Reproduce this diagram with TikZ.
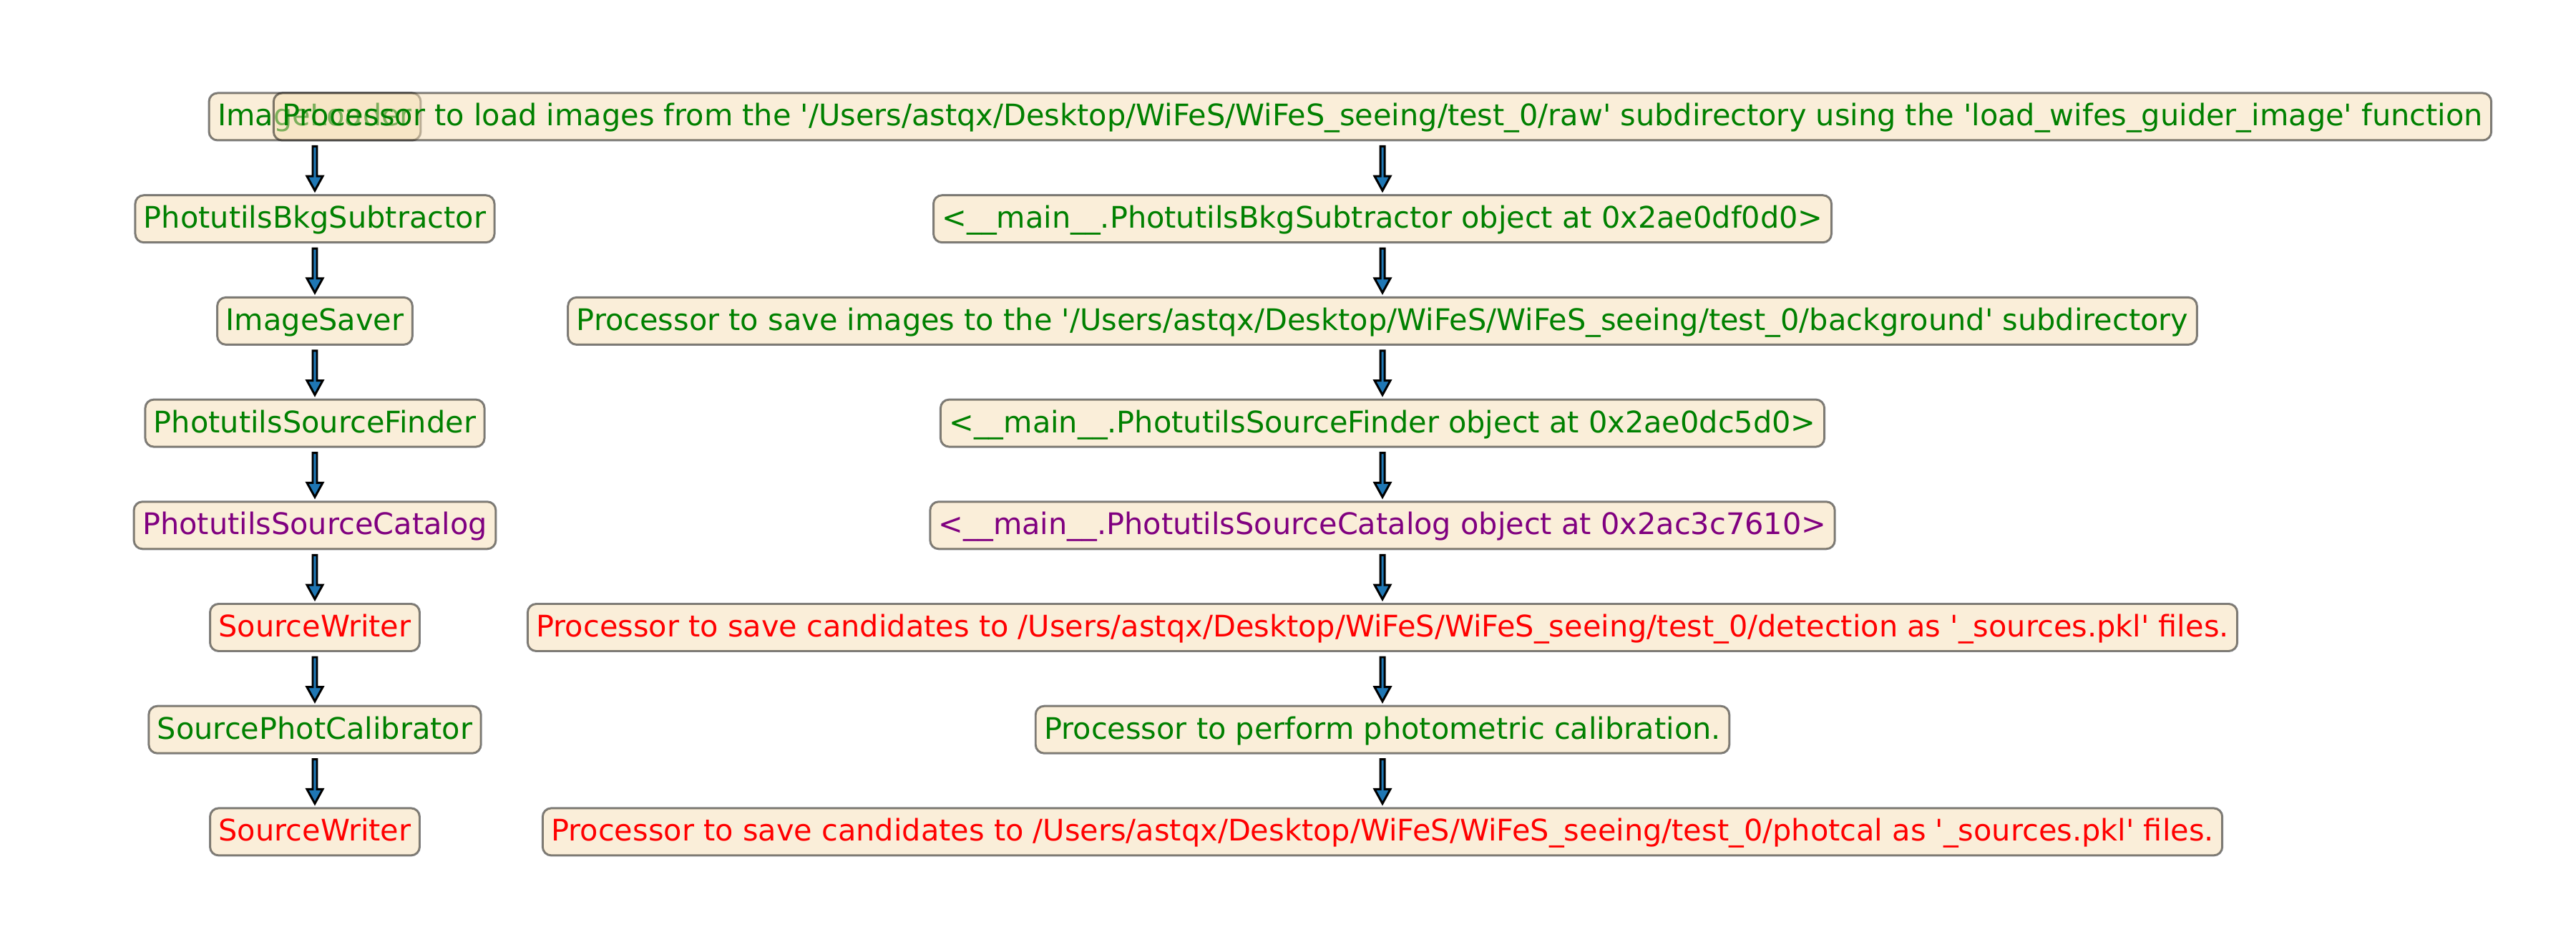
\documentclass[tikz,border=0pt]{standalone}
\usepackage{fontspec}
\setmainfont{DejaVu Sans}[Ligatures=TeXOff]
\usetikzlibrary{calc}

\definecolor{wheat}{HTML}{F5DEB3}
\definecolor{mgreen}{HTML}{008000}
\definecolor{mpurple}{HTML}{800080}
\definecolor{mred}{HTML}{FF0000}
\definecolor{mblue}{HTML}{1F77B4}

\begin{document}
\begin{tikzpicture}[
  pbox/.style={draw=black, draw opacity=0.5, fill=wheat, fill opacity=0.5, text opacity=1,
    rounded corners=0.12cm, line width=0.85pt, inner xsep=0.12cm, inner ysep=0pt,
    minimum height=0.66cm, text height=0.40cm, text depth=0.14cm,
    font=\fontsize{11.8pt}{14pt}\selectfont},
  ok/.style={pbox, text=mgreen},
  cat/.style={pbox, text=mpurple},
  wr/.style={pbox, text=mred},
  fat/.style={draw=black, fill=mblue, line width=0.85pt, line join=miter,
    to path={($(\tikztostart.south)+(-0.03,-0.07)$) -- ($(\tikztotarget.north)+(-0.03,0.25)$)
      -- ($(\tikztotarget.north)+(-0.11,0.25)$) -- ($(\tikztotarget.north)+(0,0.05)$)
      -- ($(\tikztotarget.north)+(0.11,0.25)$) -- ($(\tikztotarget.north)+(0.03,0.25)$)
      -- ($(\tikztostart.south)+(0.03,-0.07)$) -- cycle}}
]
\def\lx{4.40cm}\def\rx{19.32cm}\def\dy{-1.427cm}
\useasboundingbox (0,1.63) rectangle (36,-11.57);
% row 0
\node[ok] (c0) at (\lx,0) {ImageLoader};
\node[ok] (d0) at (\rx,0) {Processor to load images from the '/Users/astqx/Desktop/WiFeS/WiFeS\_seeing/test\_0/raw' subdirectory using the 'load\_wifes\_guider\_image' function};
% row 1
\node[ok] (c1) at (\lx,\dy) {PhotutilsBkgSubtractor};
\node[ok] (d1) at (\rx,\dy) {<\_\_main\_\_.PhotutilsBkgSubtractor object at 0x2ae0df0d0>};
% row 2
\node[ok] (c2) at (\lx,2*\dy) {ImageSaver};
\node[ok] (d2) at (\rx,2*\dy) {Processor to save images to the '/Users/astqx/Desktop/WiFeS/WiFeS\_seeing/test\_0/background' subdirectory};
% row 3
\node[ok] (c3) at (\lx,3*\dy) {PhotutilsSourceFinder};
\node[ok] (d3) at (\rx,3*\dy) {<\_\_main\_\_.PhotutilsSourceFinder object at 0x2ae0dc5d0>};
% row 4
\node[cat] (c4) at (\lx,4*\dy) {PhotutilsSourceCatalog};
\node[cat] (d4) at (\rx,4*\dy) {<\_\_main\_\_.PhotutilsSourceCatalog object at 0x2ac3c7610>};
% row 5
\node[wr] (c5) at (\lx,5*\dy) {SourceWriter};
\node[wr] (d5) at (\rx,5*\dy) {Processor to save candidates to /Users/astqx/Desktop/WiFeS/WiFeS\_seeing/test\_0/detection as '\_sources.pkl' files.};
% row 6
\node[ok] (c6) at (\lx,6*\dy) {SourcePhotCalibrator};
\node[ok] (d6) at (\rx,6*\dy) {Processor to perform photometric calibration.};
% row 7
\node[wr] (c7) at (\lx,7*\dy) {SourceWriter};
\node[wr] (d7) at (\rx,7*\dy) {Processor to save candidates to /Users/astqx/Desktop/WiFeS/WiFeS\_seeing/test\_0/photcal as '\_sources.pkl' files.};
% flow, names
\draw[fat] (c0) to (c1); \draw[fat] (c1) to (c2); \draw[fat] (c2) to (c3); \draw[fat] (c3) to (c4);
\draw[fat] (c4) to (c5); \draw[fat] (c5) to (c6); \draw[fat] (c6) to (c7);
% flow, descriptions
\draw[fat] (d0) to (d1); \draw[fat] (d1) to (d2); \draw[fat] (d2) to (d3); \draw[fat] (d3) to (d4);
\draw[fat] (d4) to (d5); \draw[fat] (d5) to (d6); \draw[fat] (d6) to (d7);
\end{tikzpicture}
\end{document}
